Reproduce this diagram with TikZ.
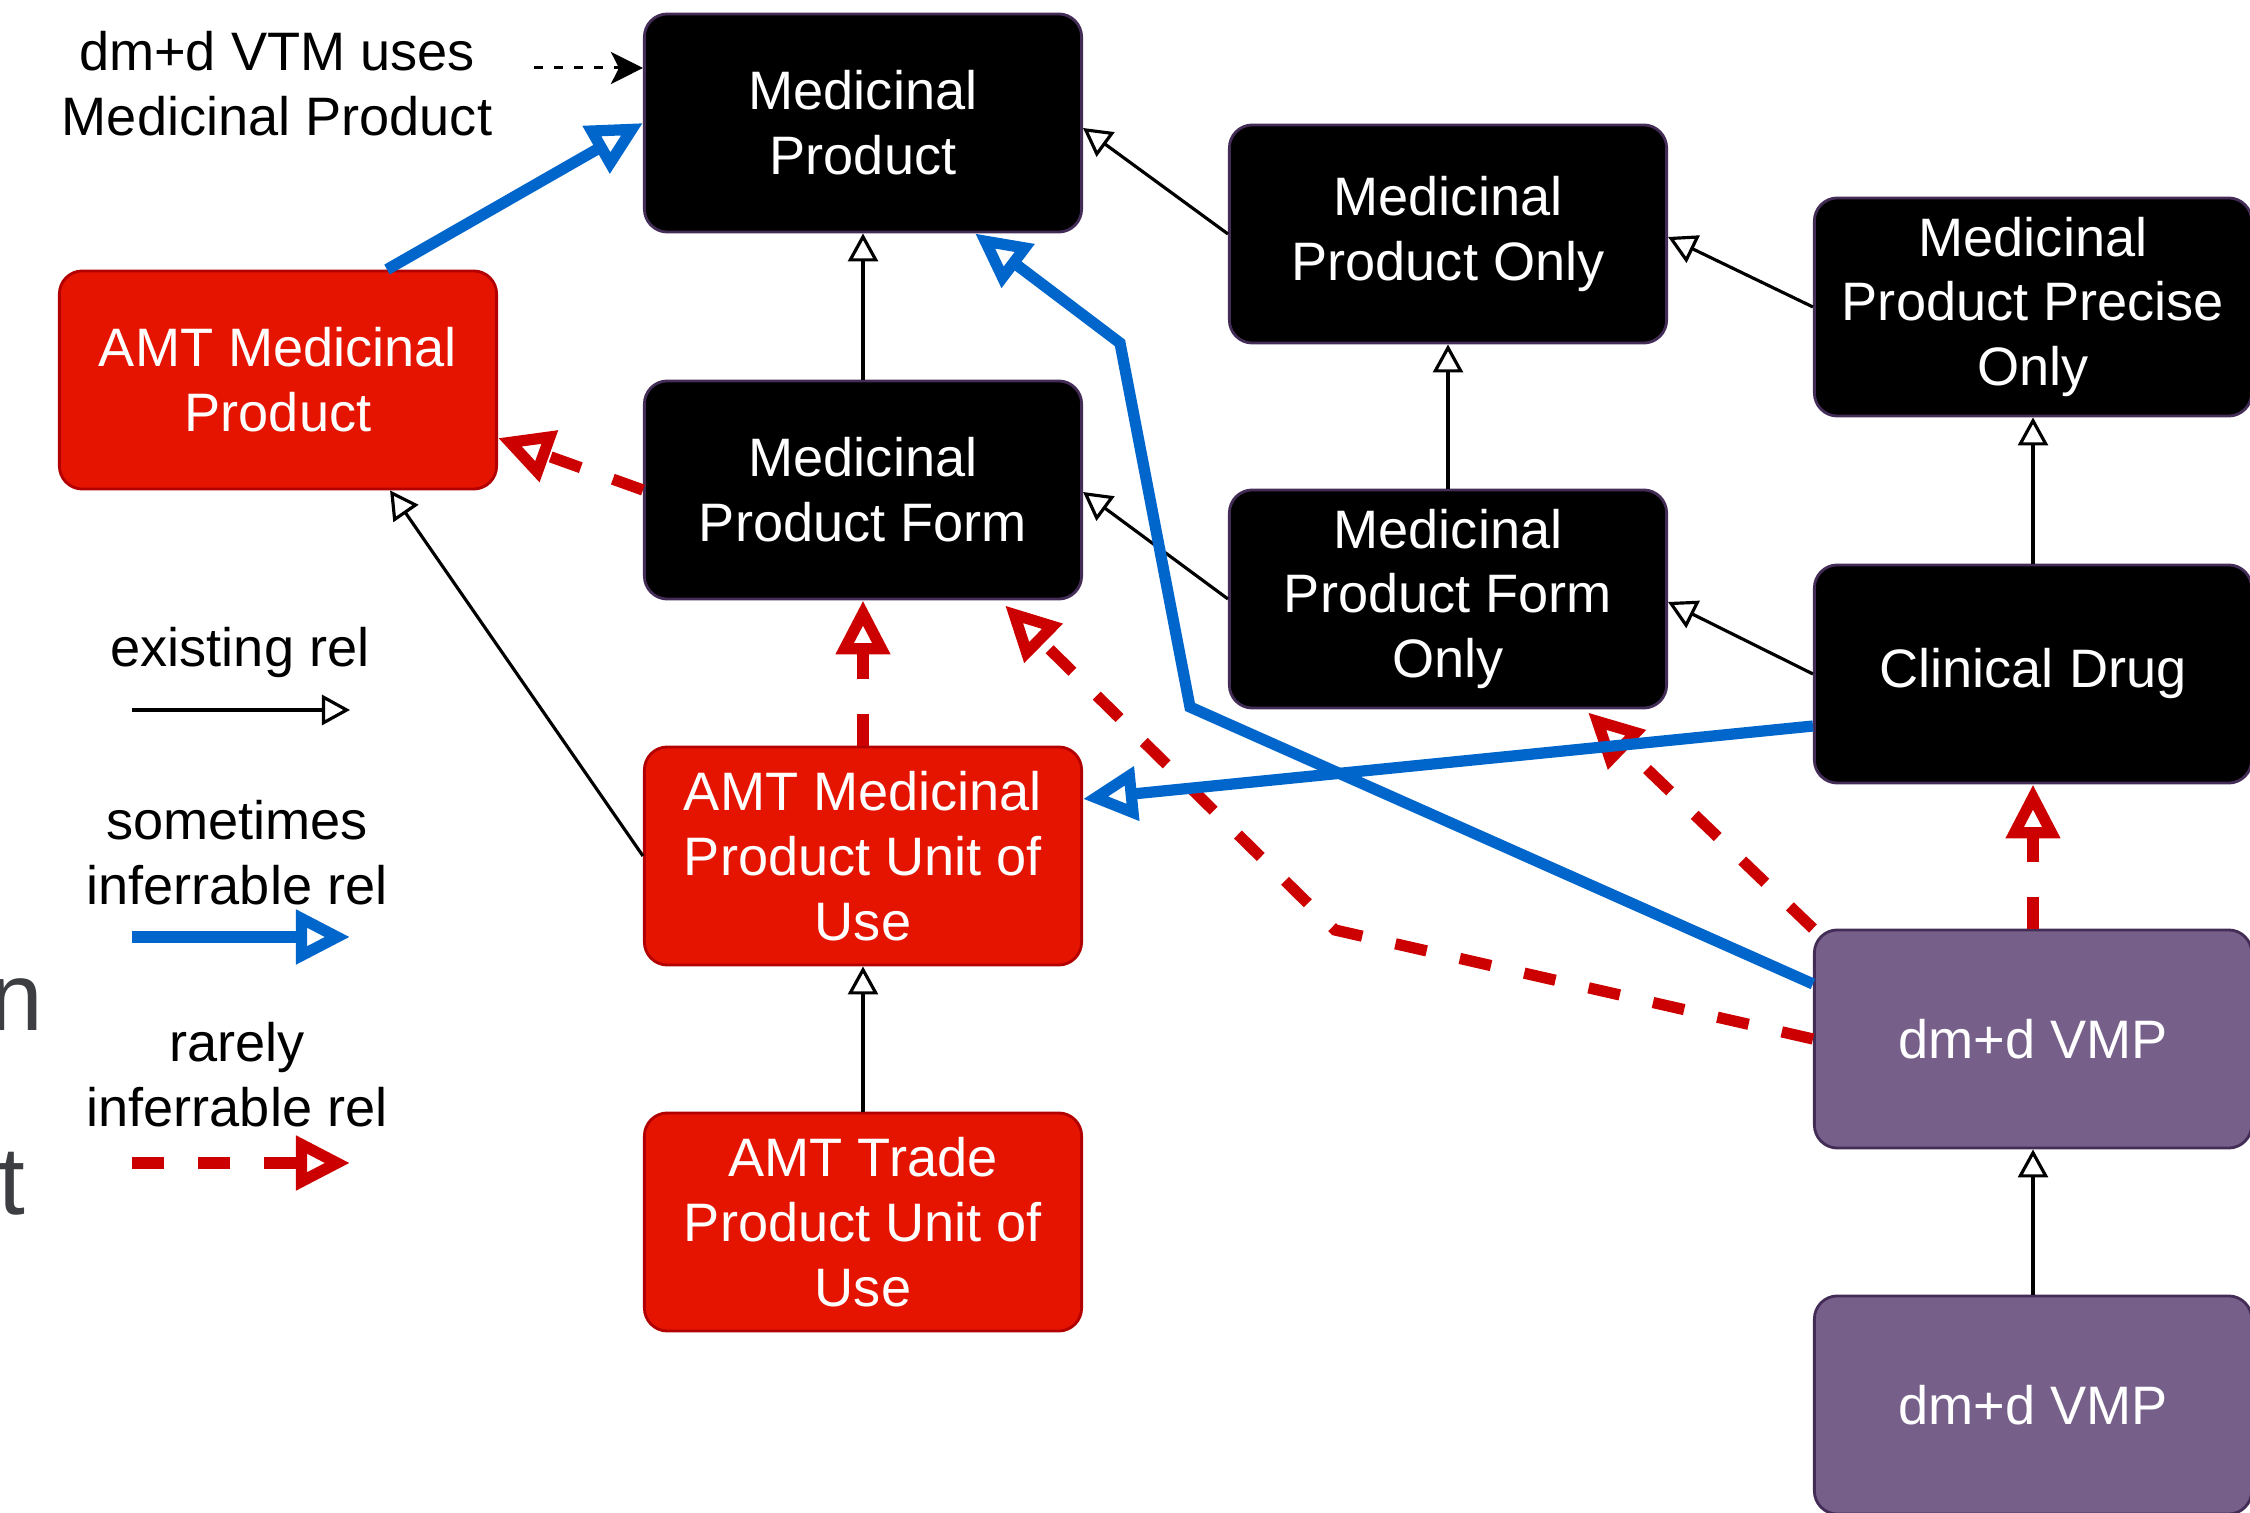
\documentclass[tikz,border=0pt]{standalone}
\usepackage{fontspec}
\setmainfont{Liberation Sans}
\usetikzlibrary{arrows.meta}
\definecolor{boxred}{HTML}{E51400}
\definecolor{boxredline}{HTML}{B20000}
\definecolor{boxpurple}{HTML}{76608A}
\definecolor{boxline}{HTML}{432D57}
\definecolor{relblue}{HTML}{0066CC}
\definecolor{relred}{HTML}{CC0000}
\definecolor{fraggray}{HTML}{3C3E42}

\begin{document}
\begin{tikzpicture}[x=0.01cm,y=-0.01cm]
            \tikzstyle{every node}+=[inner sep=0pt, font=\fontsize{15.4}{18.4}\selectfont]
            \tikzstyle{concept}=[draw=boxline, line width=0.8pt, fill=black, text=white, rounded corners=0.23cm, minimum width=4.37cm, minimum height=2.18cm, align=center]
            \tikzstyle{amt}=[concept, draw=boxredline, fill=boxred]
            \tikzstyle{dmd}=[concept, fill=boxpurple]
            \tikzstyle{existing}=[black, line width=0.9pt, -{Triangle[open,length=0.28cm,width=0.3cm]}]
            \tikzstyle{sometimes}=[relblue, line width=3.2pt, -{Triangle[open,length=0.54cm,width=0.52cm]}]
            \tikzstyle{rarely}=[relred, line width=3.2pt, dash pattern=on 0.32cm off 0.34cm, -{Triangle[open,length=0.54cm,width=0.52cm]}]
            \tikzstyle{uses}=[black, line width=0.85pt, dash pattern=on 0.09cm off 0.11cm, -{Stealth[length=0.32cm,width=0.32cm,inset=0.08cm]}]
            \tikzstyle{frag}=[text=fraggray, font=\fontsize{27.4}{33}\selectfont]
            \useasboundingbox (0,0) rectangle (2250,1513);
            \node[frag, anchor=base east] (fragn) at (44,1031) {n};
            \node[frag, anchor=base east] (fragt) at (26,1215) {t};
            \node[concept] (mp) at (863,123) {Medicinal\\Product};
            \node[concept] (mpo) at (1448,234) {Medicinal\\Product Only};
            \node[concept] (mppo) at (2033,307) {Medicinal\\Product Precise\\Only};
            \node[amt] (amtmp) at (278,380) {AMT Medicinal\\Product};
            \node[concept] (mpf) at (863,490) {Medicinal\\Product Form};
            \node[concept] (mpfo) at (1448,599) {Medicinal\\Product Form\\Only};
            \node[concept] (cd) at (2033,674) {Clinical Drug};
            \node[amt] (mpuu) at (863,856) {AMT Medicinal\\Product Unit of\\Use};
            \node[amt] (tpuu) at (863,1222) {AMT Trade\\Product Unit of\\Use};
            \node[dmd] (vmp) at (2033,1039) {dm+d VMP};
            \node[dmd] (vmpb) at (2033,1405) {dm+d VMP};
            \node[align=center] (vtm) at (277,84) {dm+d VTM uses\\Medicinal Product};
            \node (lexist) at (240,653) {existing rel};
            \node[align=center] (lsome) at (237,853) {sometimes\\inferrable rel};
            \node[align=center] (lrare) at (237,1075) {rarely\\inferrable rel};
            \coordinate (vtmtail) at (534,68);
            \coordinate (ea) at (132,710);
            \coordinate (eb) at (350,710);
            \coordinate (sa) at (132,937);
            \coordinate (sb) at (350,937);
            \coordinate (ra) at (132,1163);
            \coordinate (rb) at (350,1163);
            \coordinate (bendA) at (1190,707);
            \coordinate (bendB) at (1120,343);
            \coordinate (bendC) at (1335,930);
            \draw[uses] (vtmtail) -- (mp.west |- vtmtail);
            \draw[existing] (ea) -- (eb);
            \draw[sometimes] (sa) -- (sb);
            \draw[rarely] (ra) -- (rb);
            \draw[existing] (mpf) -- (mp);
            \draw[existing] (tpuu) -- (mpuu);
            \draw[existing] (mpfo) -- (mpo);
            \draw[existing] (cd) -- (mppo);
            \draw[existing] (vmpb) -- (vmp);
            \draw[existing] (mpo.west) -- ([yshift=-0.05cm]mp.east);
            \draw[existing] (mpfo.west) -- ([yshift=-0.02cm]mpf.east);
            \draw[existing] (mppo.west) -- ([yshift=-0.03cm]mpo.east);
            \draw[existing] (cd.west) -- ([yshift=-0.03cm]mpfo.east);
            \draw[existing] (mpuu.west) -- ([xshift=1.12cm]amtmp.south);
            \draw[rarely] (mpf.west) -- ([yshift=-0.58cm]amtmp.east);
            \draw[rarely] (mpuu) -- (mpf);
            \draw[rarely] (vmp) -- (cd);
            \draw[rarely] (vmp.north west) -- ([xshift=1.4cm,yshift=-0.03cm]mpfo.south);
            \draw[rarely] (vmp.west) -- (bendC) -- ([xshift=1.42cm,yshift=-0.05cm]mpf.south);
            \draw[sometimes] ([xshift=1.09cm]amtmp.north) -- (mp.west);
            \draw[sometimes] ([yshift=-0.52cm]cd.west) -- ([yshift=0.57cm]mpuu.east);
            \draw[sometimes] ([yshift=0.55cm]vmp.west) -- (bendA) -- (bendB) -- ([xshift=1.12cm]mp.south);
        \end{tikzpicture}
\end{document}
